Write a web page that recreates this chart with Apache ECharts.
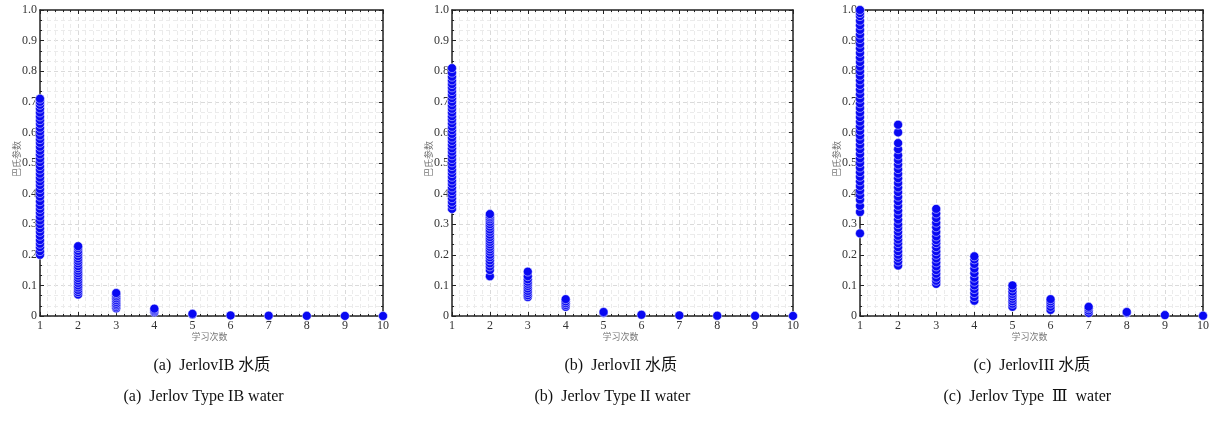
<!DOCTYPE html>
<html><head><meta charset="utf-8">
<script src="https://cdn.jsdelivr.net/npm/echarts@6/dist/echarts.min.js"></script>
<style>html,body{margin:0;padding:0;background:#fff}#c{width:1212px;height:421px}</style>
</head><body><div id="c"></div>
<script>
// categories (learning iterations)
const xCats = [1,2,3,4,5,6,7,8,9,10];
const yTicks = [0,0.1,0.2,0.3,0.4,0.5,0.6,0.7,0.8,0.9,1.0];

// Panel (a) Jerlov IB: Bhattacharyya parameter values per iteration
const panelA = [
  [0.200,0.212,0.225,0.236,0.248,0.262,0.275,0.287,0.300,0.312,0.325,0.338,0.350,0.362,0.375,0.390,0.402,0.415,0.428,0.440,0.452,0.465,0.478,0.490,0.503,0.515,0.528,0.540,0.553,0.566,0.578,0.590,0.603,0.615,0.628,0.640,0.652,0.665,0.678,0.690,0.700,0.710],
  [0.070,0.078,0.085,0.093,0.100,0.108,0.116,0.124,0.132,0.140,0.148,0.156,0.163,0.172,0.180,0.188,0.196,0.205,0.213,0.222,0.228],
  [0.025,0.030,0.035,0.040,0.046,0.052,0.058,0.064,0.070,0.075],
  [0.012,0.016,0.020,0.024],
  [0.005,0.007],
  [0.002],
  [0.001],
  [0.0005],
  [0.0003],
  [0.0001]
];
// Panel (b) Jerlov II
const panelB = [
  [0.350,0.362,0.373,0.385,0.397,0.408,0.420,0.432,0.443,0.455,0.467,0.478,0.490,0.502,0.513,0.525,0.537,0.548,0.560,0.572,0.583,0.595,0.607,0.618,0.630,0.642,0.653,0.665,0.677,0.688,0.700,0.712,0.723,0.735,0.747,0.758,0.770,0.782,0.795,0.810],
  [0.130,0.150,0.162,0.172,0.182,0.192,0.200,0.210,0.218,0.226,0.234,0.242,0.250,0.258,0.266,0.275,0.283,0.292,0.300,0.308,0.316,0.322,0.328,0.333],
  [0.062,0.068,0.075,0.082,0.090,0.098,0.105,0.112,0.120,0.130,0.145],
  [0.030,0.036,0.042,0.048,0.055],
  [0.010,0.013],
  [0.004],
  [0.002],
  [0.001],
  [0.0005],
  [0.0002]
];
// Panel (c) Jerlov III
const panelC = [
  [0.270,0.340,0.360,0.380,0.395,0.410,0.425,0.440,0.455,0.470,0.485,0.500,0.515,0.530,0.545,0.560,0.575,0.590,0.605,0.620,0.635,0.650,0.665,0.680,0.695,0.710,0.725,0.740,0.755,0.770,0.785,0.800,0.815,0.830,0.845,0.860,0.875,0.890,0.905,0.920,0.935,0.950,0.965,0.980,0.990,1.000],
  [0.165,0.178,0.190,0.200,0.212,0.225,0.238,0.250,0.262,0.275,0.288,0.300,0.315,0.330,0.345,0.360,0.375,0.390,0.405,0.420,0.435,0.450,0.465,0.480,0.495,0.510,0.525,0.545,0.565,0.600,0.625],
  [0.105,0.115,0.125,0.138,0.150,0.162,0.175,0.188,0.200,0.212,0.225,0.238,0.248,0.260,0.275,0.290,0.305,0.320,0.335,0.350],
  [0.050,0.062,0.075,0.088,0.100,0.112,0.125,0.140,0.155,0.170,0.185,0.195],
  [0.030,0.040,0.048,0.056,0.064,0.072,0.080,0.090,0.100],
  [0.020,0.030,0.040,0.048,0.055],
  [0.010,0.018,0.025,0.030],
  [0.010,0.013],
  [0.003],
  [0.001]
];
const captionsCN = ['(a)  JerlovIB 水质','(b)  JerlovII 水质','(c)  JerlovIII 水质'];
const captionsEN = ['(a)  Jerlov Type IB water','(b)  Jerlov Type II water','(c)  Jerlov Type  Ⅲ  water'];
const xName = '学习次数';
const yName = '巴氏参数';

const panels = [panelA, panelB, panelC];
const grids = [
  {left:40, top:10, width:343, height:306},
  {left:452, top:10, width:341, height:306},
  {left:860, top:10, width:343, height:306}
];
const serif = '"Liberation Serif","DejaVu Serif","Noto Sans CJK SC",serif';
const axisColor = '#222';
const option = {backgroundColor:'#fff', animation:false, grid:[], xAxis:[], yAxis:[], series:[], graphic:[]};

grids.forEach((g,i)=>{
  option.grid.push(g);
  const common = {min:1,max:10,interval:1,
    axisLine:{show:true,onZero:false,lineStyle:{color:axisColor,width:1.5}},
    axisTick:{inside:true,length:4,lineStyle:{color:axisColor}},
    minorTick:{show:true,splitNumber:5,length:2,lineStyle:{color:axisColor}}};
  option.xAxis.push(Object.assign({type:'value',gridIndex:i,position:'bottom',
    axisLabel:{color:'#333',fontFamily:serif,fontSize:12,margin:4,formatter:v=>xCats.includes(v)?String(v):''},
    splitLine:{show:true,lineStyle:{color:'#dadada',type:[4,3],width:1}},
    minorSplitLine:{show:true,lineStyle:{color:'#ebebeb',type:[4,3],width:1}}},common));
  option.xAxis.push(Object.assign({type:'value',gridIndex:i,position:'top',
    axisLabel:{show:false},splitLine:{show:false}},common));
  const ycommon = {min:0,max:1,interval:0.1,
    axisLine:{show:true,onZero:false,lineStyle:{color:axisColor,width:1.5}},
    axisTick:{inside:true,length:4,lineStyle:{color:axisColor}},
    minorTick:{show:true,splitNumber:3,length:2,lineStyle:{color:axisColor}}};
  option.yAxis.push(Object.assign({type:'value',gridIndex:i,position:'left',
    axisLabel:{color:'#333',fontFamily:serif,fontSize:12,margin:3,
      formatter:v=>{const t=yTicks.find(k=>Math.abs(k-v)<1e-6);return t===undefined?'':(t===0?'0':t.toFixed(1));}},
    splitLine:{show:true,lineStyle:{color:'#dadada',type:[4,3],width:1}},
    minorSplitLine:{show:true,lineStyle:{color:'#ebebeb',type:[4,3],width:1}}},ycommon));
  option.yAxis.push(Object.assign({type:'value',gridIndex:i,position:'right',
    axisLabel:{show:false},splitLine:{show:false}},ycommon));
  const data = [];
  panels[i].forEach((vals,ci)=>vals.forEach(v=>data.push([xCats[ci],v])));
  option.series.push({type:'scatter',xAxisIndex:i*2,yAxisIndex:i*2,data:data,clip:false,
    symbol:'circle',symbolSize:9,
    itemStyle:{color:'#0808f2',borderColor:'#ffffff',borderWidth:0.5,opacity:1}});
  const cx = g.left + g.width/2;
  option.graphic.push({type:'text',left:cx-20,top:332,style:{text:xName,fill:'#777',font:'9px "Noto Sans CJK SC"'}});
  option.graphic.push({type:'text',left:g.left-28,top:g.top+g.height/2-22,rotation:Math.PI/2,
    style:{text:yName,fill:'#777',font:'9px "Noto Sans CJK SC"'}});
  option.graphic.push({type:'text',left:cx-58,top:358,style:{text:captionsCN[i],fill:'#111',font:'16px '+serif}});
  option.graphic.push({type:'text',left:cx-88,top:389,style:{text:captionsEN[i],fill:'#111',font:'16px '+serif}});
});

const chart = echarts.init(document.getElementById('c'),null,{renderer:'canvas'});
chart.setOption(option);
</script></body></html>
